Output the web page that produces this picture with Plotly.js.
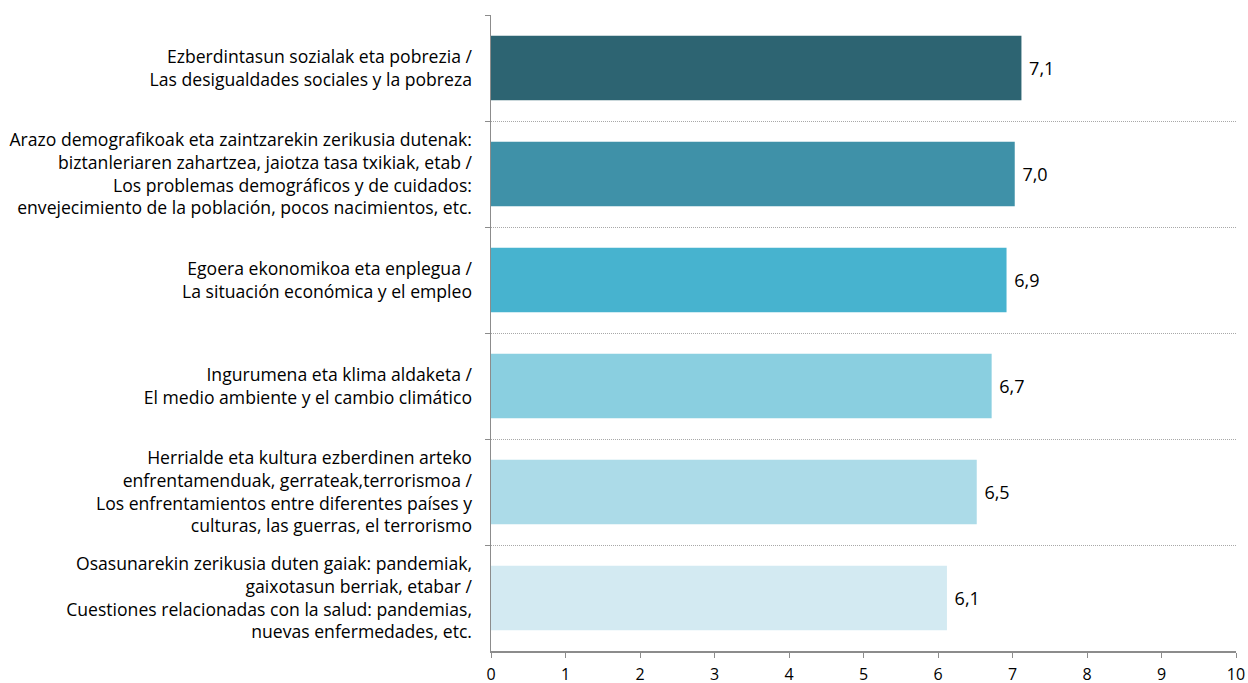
<!DOCTYPE html>
<html>
<head>
<meta charset="utf-8">
<script src="https://cdn.plot.ly/plotly-3.0.1.min.js"></script>
<style>
  html, body { margin: 0; padding: 0; background: #fff; }
  #plot { width: 1248px; height: 683px; }
</style>
</head>
<body>
<div id="plot"></div>
<script>
const categories = [
    'Ezberdintasun sozialak eta pobrezia /<br>Las desigualdades sociales y la pobreza',
    'Arazo demografikoak eta zaintzarekin zerikusia dutenak:<br>biztanleriaren zahartzea, jaiotza tasa txikiak, etab /<br>Los problemas demográficos y de cuidados:<br>envejecimiento de la población, pocos nacimientos, etc.',
    'Egoera ekonomikoa eta enplegua /<br>La situación económica y el empleo',
    'Ingurumena eta klima aldaketa /<br>El medio ambiente y el cambio climático',
    'Herrialde eta kultura ezberdinen arteko<br>enfrentamenduak, gerrateak,terrorismoa /<br>Los enfrentamientos entre diferentes países y<br>culturas, las guerras, el terrorismo',
    'Osasunarekin zerikusia duten gaiak: pandemiak,<br>gaixotasun berriak, etabar /<br>Cuestiones relacionadas con la salud: pandemias,<br>nuevas enfermedades, etc.',
];
const values = [7.12, 7.03, 6.92, 6.72, 6.52, 6.12];
const barColours = ['#2d6472', '#3f91a8', '#47b3cf', '#8acfe0', '#acdbe8', '#d3eaf2'];
const xTicks = [0, 1, 2, 3, 4, 5, 6, 7, 8, 9, 10];

const font = '"Open Sans", sans-serif';

const data = [{
    type: 'bar',
    orientation: 'h',
    y: categories,
    x: values,
    width: 0.61,
    marker: { color: barColours },
    texttemplate: '\u00a0%{x:.1f}',
    textposition: 'outside',
    cliponaxis: false,
    textfont: { family: font, size: 18, color: '#000' },
    hoverinfo: 'none',
}];

const layout = {
    width: 1248,
    height: 683,
    margin: { l: 491, r: 12, t: 15, b: 32 },
    paper_bgcolor: '#fff',
    plot_bgcolor: '#fff',
    separators: ', ',
    showlegend: false,
    font: { family: font, size: 16, color: '#000' },
    xaxis: {
        range: [0, 10],
        tickvals: xTicks,
        showgrid: false,
        zeroline: false,
        showline: true,
        linecolor: '#8c8c8c',
        linewidth: 1.5,
        ticks: 'outside',
        ticklen: 5,
        tickcolor: '#8c8c8c',
        tickfont: { family: font, size: 16, color: '#000' },
        ticklabelstandoff: 3,
        fixedrange: true,
    },
    yaxis: {
        type: 'category',
        autorange: 'reversed',
        tickson: 'boundaries',
        ticks: 'outside',
        ticklen: 5,
        tickcolor: '#8c8c8c',
        showline: true,
        linecolor: '#8c8c8c',
        linewidth: 1.5,
        showgrid: true,
        gridcolor: '#a8a8a8',
        griddash: '1px,1px',
        gridwidth: 1,
        zeroline: false,
        tickfont: { family: font, size: 17.6, color: '#000' },
        ticklabelstandoff: 14,
        fixedrange: true,
    },
};

Plotly.newPlot('plot', data, layout, { displayModeBar: false, staticPlot: true });
</script>
</body>
</html>
